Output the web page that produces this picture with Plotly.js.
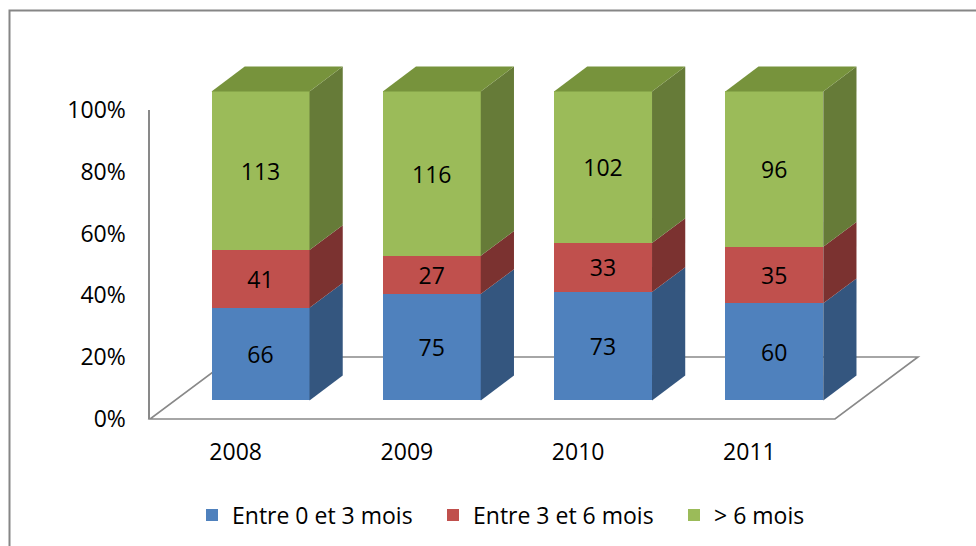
<!DOCTYPE html>
<html><head><meta charset="utf-8">
<script src="https://cdn.plot.ly/plotly-3.0.1.min.js"></script>
<style>html,body{margin:0;padding:0;background:#fff}</style>
</head><body><div id="chart" style="width:976px;height:546px"></div>
<script>
// ---- data ----
const years = ['2008', '2009', '2010', '2011'];
const seriesNames = ['Entre 0 et 3 mois', 'Entre 3 et 6 mois', '> 6 mois'];
const v0to3 = [66, 75, 73, 60];
const v3to6 = [41, 27, 33, 35];
const vOver6 = [113, 116, 102, 96];
const yTickVals = [0, 20, 40, 60, 80, 100];
const yTickText = ['0%', '20%', '40%', '60%', '80%', '100%'];

// ---- style / geometry ----
const frontColors = ['#4F81BD', '#C0504D', '#9BBB59'];
const sideColors = ['#34567F', '#7B3230', '#667B38'];
const topColor = '#77933C';
const lineGray = '#898989';
const W = 976, H = 546;
const AX_L = 150, AX_R = 835, AX_Y0 = 419, AX_Y100 = 110;
const FLOOR_DX = 83, FLOOR_DY = 62;
const FRONT_GAP = 0.3, BAR_DEPTH = 0.4;
const BAR_W_PX = 98;
const FONT = 'Open Sans, sans-serif';
const FS = 23;

const n = years.length;
const catPx = (AX_R - AX_L) / n;
const pctPx = (AX_Y0 - AX_Y100) / 100;
const frontDx = FLOOR_DX * FRONT_GAP, frontDy = FLOOR_DY * FRONT_GAP;
const bx0Px = AX_L + catPx / 2 + frontDx;
const by0Px = AX_Y0 - frontDy;
const x2range = [-bx0Px / catPx, (W - bx0Px) / catPx];
const y2range = [-(H - by0Px) / pctPx, by0Px / pctPx];
const ddx = FLOOR_DX * BAR_DEPTH / catPx, ddy = FLOOR_DY * BAR_DEPTH / pctPx;
const barW = BAR_W_PX / catPx;
const idx = years.map((_, i) => i);

const series = [v0to3, v3to6, vOver6];
const totals = idx.map(i => series.reduce((s, a) => s + a[i], 0));
const pct = series.map(a => a.map((v, i) => 100 * v / totals[i]));
const bottoms = series.map((a, k) => idx.map(i => {
  let s = 0; for (let j = 0; j < k; j++) s += pct[j][i]; return s;
}));

const traces = [];
// side faces
series.forEach((a, k) => {
  idx.forEach(i => {
    const b = bottoms[k][i], t = b + pct[k][i], xe = i + barW / 2;
    traces.push({
      type: 'scatter', mode: 'lines', xaxis: 'x2', yaxis: 'y2',
      x: [xe, xe + ddx, xe + ddx, xe, xe],
      y: [b, b + ddy, t + ddy, t, b],
      fill: 'toself', fillcolor: sideColors[k], line: {width: 0},
      hoverinfo: 'skip', showlegend: false
    });
  });
});
// top faces
idx.forEach(i => {
  const x0 = i - barW / 2, x1 = i + barW / 2;
  traces.push({
    type: 'scatter', mode: 'lines', xaxis: 'x2', yaxis: 'y2',
    x: [x0, x1, x1 + ddx, x0 + ddx, x0],
    y: [100, 100, 100 + ddy, 100 + ddy, 100],
    fill: 'toself', fillcolor: topColor, line: {width: 0},
    hoverinfo: 'skip', showlegend: false
  });
});
// front faces
series.forEach((a, k) => {
  traces.push({
    type: 'bar', xaxis: 'x2', yaxis: 'y2', name: seriesNames[k],
    x: idx, y: pct[k], width: barW,
    marker: {color: frontColors[k], line: {width: 0}},
    text: a.map(String), textposition: 'inside', insidetextanchor: 'middle',
    textangle: 0, constraintext: 'none',
    textfont: {family: FONT, size: FS, color: '#000'},
    hoverinfo: 'skip'
  });
});
// dummy for visible axes
traces.push({type: 'scatter', x: idx, y: idx.map(() => null), xaxis: 'x', yaxis: 'y',
  showlegend: false, hoverinfo: 'skip'});

// floor (drawn below the bars)
const tF = -FRONT_GAP / BAR_DEPTH, tB = (1 - FRONT_GAP) / BAR_DEPTH;
const xl = -0.5, xr = n - 0.5;
const floorPts = [
  [xl + tF * ddx, tF * ddy], [xr + tF * ddx, tF * ddy],
  [xr + tB * ddx, tB * ddy], [xl + tB * ddx, tB * ddy]
];
const floorPath = 'M' + floorPts.map(p => p[0] + ',' + p[1]).join('L') + 'Z';

const layout = {
  width: W, height: H,
  margin: {l: 0, r: 0, t: 0, b: 0},
  paper_bgcolor: '#fff', plot_bgcolor: 'rgba(0,0,0,0)',
  barmode: 'stack', bargap: 0,
  font: {family: FONT, size: FS, color: '#000'},
  showlegend: true,
  xaxis: {
    domain: [AX_L / W, AX_R / W], range: [-0.5, n - 0.5], anchor: 'y',
    tickvals: idx, ticktext: years, showgrid: false, zeroline: false,
    showline: false, ticks: '', ticklabelstandoff: 17,
    tickfont: {family: FONT, size: FS, color: '#000'}, fixedrange: true
  },
  yaxis: {
    domain: [1 - AX_Y0 / H, 1 - AX_Y100 / H], range: [0, 100], anchor: 'x',
    tickvals: yTickVals, ticktext: yTickText, showgrid: false, zeroline: false,
    showline: true, linecolor: lineGray, linewidth: 1.6, ticks: '',
    ticklabelstandoff: 18,
    tickfont: {family: FONT, size: FS, color: '#000'}, fixedrange: true
  },
  xaxis2: {domain: [0, 1], range: x2range, anchor: 'y2', visible: false, fixedrange: true},
  yaxis2: {domain: [0, 1], range: y2range, anchor: 'x2', visible: false, fixedrange: true},
  legend: {
    orientation: 'h', x: 192 / W, xanchor: 'left', y: 1 - 515 / H, yanchor: 'middle',
    entrywidth: 196, entrywidthmode: 'pixels', traceorder: 'normal',
    font: {family: FONT, size: FS, color: '#000'}, bgcolor: 'rgba(0,0,0,0)'
  },
  shapes: [{
    type: 'rect', xref: 'paper', yref: 'paper',
    x0: 9.5 / W, x1: 1.05, y0: -0.05, y1: 1 - 10.5 / H,
    line: {color: '#868686', width: 2}, fillcolor: 'rgba(0,0,0,0)', layer: 'below'
  }, {
    type: 'path', xref: 'x2', yref: 'y2', path: floorPath,
    line: {color: lineGray, width: 1.6}, fillcolor: 'rgba(0,0,0,0)', layer: 'below'
  }]
};

Plotly.newPlot('chart', traces, layout, {displayModeBar: false, staticPlot: true});
</script>
</body></html>
